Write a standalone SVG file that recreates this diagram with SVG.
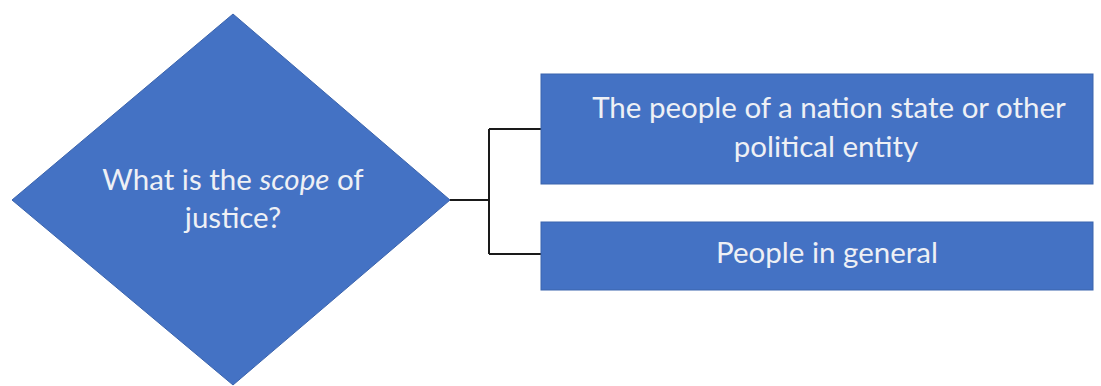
<svg xmlns="http://www.w3.org/2000/svg" width="1101" height="386" viewBox="0 0 1101 386">
<style>
.shape{fill:#4472C4;stroke:#3b64ad;stroke-width:1}
.lbl{font-family:Lato,"Open Sans",sans-serif;font-size:29.5px;fill:#eef0f5;text-anchor:middle}
.conn{fill:none;stroke:#1a1a1a;stroke-width:2}
</style>
<rect width="1101" height="386" fill="#ffffff"/>
<g id="connectors">
<path class="conn" d="M450 200 H489 M489 129 V254 M489 129 H541 M489 254 H541"/>
</g>
<g id="decision">
<polygon class="shape" points="233,14 450,200 233,385 12,200"/>
<text class="lbl" x="233" y="190">What is the <tspan font-style="italic">scope</tspan> of</text>
<text class="lbl" x="233" y="228">justice?</text>
</g>
<g id="option1">
<rect class="shape" x="541" y="74" width="552" height="110"/>
<text class="lbl" x="829" y="118">The people of a nation state or other</text>
<text class="lbl" x="826" y="157">political entity</text>
</g>
<g id="option2">
<rect class="shape" x="541" y="222" width="552" height="68"/>
<text class="lbl" x="827" y="263">People in general</text>
</g>
</svg>
